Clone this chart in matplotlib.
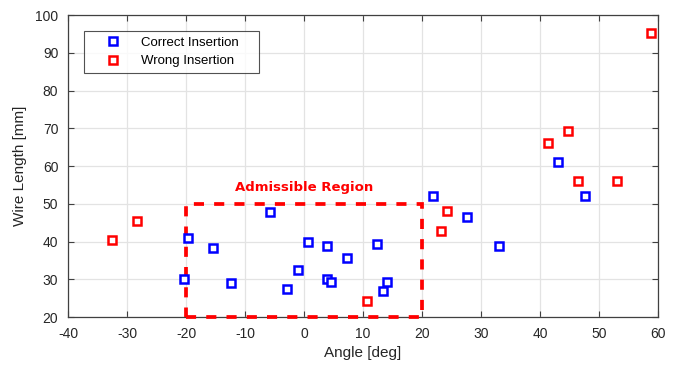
import numpy as np
import matplotlib
matplotlib.use('Agg')
import matplotlib.pyplot as plt
from matplotlib.patches import Rectangle

# data
correct_angle = [-20.3, -19.7, -15.5, -12.3, -5.8, -2.9, -1.1, 0.6, 3.9, 3.9, 4.6,
                 7.3, 12.4, 13.4, 14.0, 21.8, 27.6, 33.0, 43.0, 47.7]
correct_length = [30.0, 40.9, 38.4, 28.9, 47.9, 27.5, 32.5, 40.0, 38.8, 30.0, 29.4,
                  35.6, 39.4, 27.0, 29.4, 52.0, 46.5, 38.9, 61.0, 52.0]
wrong_angle = [-32.5, -28.3, 10.7, 23.3, 24.3, 41.4, 44.8, 46.5, 53.1, 58.8]
wrong_length = [40.5, 45.3, 24.3, 42.9, 48.0, 66.0, 69.3, 56.0, 56.0, 95.1]
region_x = [-20, 20]
region_y = [20, 50]

plt.rcParams['font.family'] = ['Liberation Sans', 'DejaVu Sans']
plt.rcParams['axes.unicode_minus'] = False
fig = plt.figure(figsize=(6.78, 3.65), dpi=100)
ax = fig.add_axes([0.1003, 0.1315, 0.8702, 0.8274])

ax.plot(correct_angle, correct_length, 's', ms=5.8, mfc='white', mec='#0000ff', mew=1.8,
        linestyle='none', label='Correct Insertion', zorder=4)
ax.plot(wrong_angle, wrong_length, 's', ms=5.8, mfc='white', mec='#ff0000', mew=1.8,
        linestyle='none', label='Wrong Insertion', zorder=4)

rect = Rectangle((region_x[0], region_y[0]), region_x[1] - region_x[0], region_y[1] - region_y[0],
                 fill=False, ec='#ff0000', lw=2.7, ls=(0, (2.7, 2.7)), zorder=3, clip_on=False)
ax.add_patch(rect)
ax.text(np.mean(region_x), region_y[1] + 4.3, 'Admissible Region', color='#ff0000',
        fontweight='bold', ha='center', va='center', fontsize=9.5, family='DejaVu Sans')

ax.set_xlim(-40, 60)
ax.set_ylim(20, 100)
ax.set_xticks(np.arange(-40, 61, 10))
ax.set_yticks(np.arange(20, 101, 10))
ax.grid(True, color='#e3e3e3', lw=0.9)
ax.set_axisbelow(True)
ax.tick_params(direction='in', top=True, right=True, length=4, labelsize=10,
               color='#404040', labelcolor='#262626', pad=7)
for s in ax.spines.values():
    s.set_color('#404040')
    s.set_linewidth(0.9)

ax.set_xlabel('Angle [deg]', fontsize=11, color='#262626', labelpad=4)
ax.set_ylabel('Wire Length [mm]', fontsize=11, color='#262626', labelpad=6)

leg = ax.legend(loc='upper left', bbox_to_anchor=(0.0271, 0.8146, 0.2966, 0.1324), mode='expand',
                fontsize=9.5, frameon=True, fancybox=False, edgecolor='#262626',
                handlelength=3.6, handletextpad=0.3, borderpad=0.4, labelspacing=0.5,
                borderaxespad=0.0)
leg.get_frame().set_linewidth(0.8)

fig.savefig('out.png', dpi=100)
